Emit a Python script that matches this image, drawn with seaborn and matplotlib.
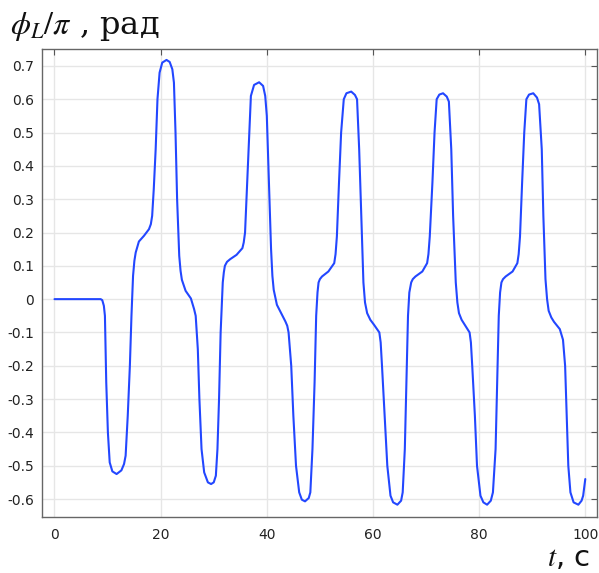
import matplotlib
matplotlib.use("Agg")
import matplotlib.pyplot as plt
import seaborn as sns
import pandas as pd

# time, s  (one list per oscillation)
t_a = [0, 8.7, 9.0, 9.3, 9.5, 9.75, 10.06, 10.4, 10.9, 11.7, 12.6, 13.1, 13.4, 13.8,
       14.2, 14.5, 14.8, 15.05, 15.3, 15.9, 16.85, 17.8, 18.15, 18.4, 18.7, 19.06,
       19.4, 19.8, 20.3, 21.1, 21.7, 22.2, 22.5, 22.8, 23.1, 23.5, 23.75, 24.0, 24.7,
       25.7, 26.3, 26.6, 27.0, 27.3, 27.7, 28.2, 28.9, 29.5]
t_b = [30.0, 30.4, 30.7, 31.0, 31.3, 31.7, 31.9, 32.1, 32.5, 33.1, 34.3, 35.4, 35.65,
       35.9, 36.3, 36.7, 37.0, 37.6, 38.55, 39.3, 39.7, 40.0, 40.4, 40.8, 41.05, 41.3,
       41.9, 42.8, 43.5, 43.85, 44.1, 44.6, 45.0, 45.5, 46.1, 46.6, 47.2]
t_c = [47.9, 48.2, 48.6, 49.0, 49.3, 49.55, 49.75, 50.0, 50.4, 51.6, 52.7, 52.95, 53.2,
       53.6, 54.0, 54.5, 55.0, 55.9, 56.6, 57.0, 57.4, 57.8, 58.2, 58.5, 58.9, 59.5,
       60.2, 61.2, 61.45, 61.7, 62.2, 62.7, 63.3, 63.8, 64.6]
t_d = [65.3, 65.6, 66.0, 66.3, 66.6, 66.85, 67.2, 67.5, 68.0, 69.3, 70.2, 70.45, 70.7,
       71.2, 71.6, 72.0, 72.5, 73.2, 73.9, 74.3, 74.75, 75.1, 75.6, 75.9, 76.2, 76.7,
       77.3, 78.2, 78.45, 78.7, 79.2, 79.6, 80.25, 80.8, 81.5]
t_e = [82.2, 82.6, 83.1, 83.4, 83.7, 83.95, 84.2, 84.5, 85.0, 86.3, 87.2, 87.45, 87.7,
       88.1, 88.5, 88.9, 89.4, 90.2, 90.9, 91.3, 91.8, 92.1, 92.5, 92.8, 93.1, 93.6,
       94.1, 95.2, 95.8, 96.2, 96.5, 96.8, 97.2, 97.8, 98.7, 99.3, 99.6, 100.0]

# phi_L / pi, rad
phi_a = [0, 0, -0.003, -0.02, -0.05, -0.25, -0.40, -0.49, -0.517, -0.525, -0.514,
         -0.495, -0.47, -0.35, -0.2, -0.05, 0.07, 0.115, 0.14, 0.173, 0.19, 0.21, 0.225,
         0.25, 0.33, 0.45, 0.6, 0.68, 0.71, 0.718, 0.712, 0.69, 0.65, 0.5, 0.3, 0.13,
         0.085, 0.058, 0.025, 0.002, -0.03, -0.05, -0.15, -0.3, -0.45, -0.52, -0.55,
         -0.555]
phi_b = [-0.55, -0.53, -0.45, -0.3, -0.1, 0.05, 0.08, 0.1, 0.112, 0.12, 0.133, 0.153,
         0.17, 0.2, 0.35, 0.5, 0.61, 0.643, 0.651, 0.64, 0.61, 0.55, 0.35, 0.15, 0.07,
         0.028, -0.017, -0.045, -0.067, -0.08, -0.1, -0.2, -0.35, -0.5, -0.58, -0.602,
         -0.607]
phi_c = [-0.597, -0.58, -0.45, -0.25, -0.05, 0.02, 0.05, 0.06, 0.068, 0.083, 0.108,
         0.135, 0.188, 0.35, 0.5, 0.6, 0.618, 0.623, 0.613, 0.6, 0.45, 0.25, 0.05, -0.01,
         -0.042, -0.062, -0.077, -0.1, -0.13, -0.2, -0.35, -0.5, -0.59, -0.61, -0.617]
phi_d = [-0.605, -0.58, -0.45, -0.25, -0.05, 0.02, 0.05, 0.06, 0.068, 0.083, 0.108,
         0.135, 0.188, 0.35, 0.5, 0.6, 0.614, 0.618, 0.608, 0.593, 0.45, 0.25, 0.05,
         -0.01, -0.042, -0.062, -0.077, -0.1, -0.13, -0.2, -0.35, -0.5, -0.59, -0.61,
         -0.617]
phi_e = [-0.605, -0.58, -0.45, -0.25, -0.05, 0.02, 0.05, 0.06, 0.068, 0.083, 0.108,
         0.135, 0.188, 0.35, 0.5, 0.6, 0.614, 0.618, 0.605, 0.585, 0.45, 0.25, 0.06,
         0.0, -0.035, -0.055, -0.068, -0.09, -0.122, -0.2, -0.35, -0.5, -0.58, -0.61,
         -0.617, -0.605, -0.59, -0.54]

xticks = [0, 20, 40, 60, 80, 100]
yticks = [-0.6, -0.5, -0.4, -0.3, -0.2, -0.1, 0, 0.1, 0.2, 0.3, 0.4, 0.5, 0.6, 0.7]
ytick_labels = ["-0.6", "-0.5", "-0.4", "-0.3", "-0.2", "-0.1", "0",
                "0.1", "0.2", "0.3", "0.4", "0.5", "0.6", "0.7"]

df = pd.DataFrame({"t": t_a + t_b + t_c + t_d + t_e,
                   "phi": phi_a + phi_b + phi_c + phi_d + phi_e})

sns.set_style("white")
plt.rcParams["axes.unicode_minus"] = False
plt.rcParams["mathtext.fontset"] = "stix"

fig = plt.figure(figsize=(5.99, 5.73), dpi=100)
ax = fig.add_axes([0.0706, 0.0977, 0.926, 0.8163])

sns.lineplot(data=df, x="t", y="phi", ax=ax, color="#2347ff", linewidth=1.5, sort=False)

ax.set_xlim(-2.3, 102.2)
ax.set_ylim(-0.654, 0.75)
ax.set_xticks(xticks)
ax.set_xticklabels([str(v) for v in xticks])
ax.set_yticks(yticks)
ax.set_yticklabels(ytick_labels)
ax.grid(True, color="#e6e6e6", linewidth=1)
ax.set_axisbelow(True)
ax.set_xlabel("")
ax.set_ylabel("")

for s in ax.spines.values():
    s.set_color("#666666")
    s.set_linewidth(1.0)
ax.tick_params(direction="in", length=4, width=0.8, color="#555555",
               top=True, right=True, labelsize=10, labelcolor="#222222")
ax.tick_params(axis="x", pad=8)
ax.tick_params(axis="y", pad=6)

fig.text(10 / 599, 1 - 34 / 573, r"$\phi_L/\pi$ , рад", fontsize=23,
         family="DejaVu Serif", ha="left", va="baseline", color="#111111")
fig.text(590 / 599, 1 - 566 / 573, r"$t$, с", fontsize=21,
         ha="right", va="baseline", color="#111111")

fig.savefig("out.png", dpi=100)
